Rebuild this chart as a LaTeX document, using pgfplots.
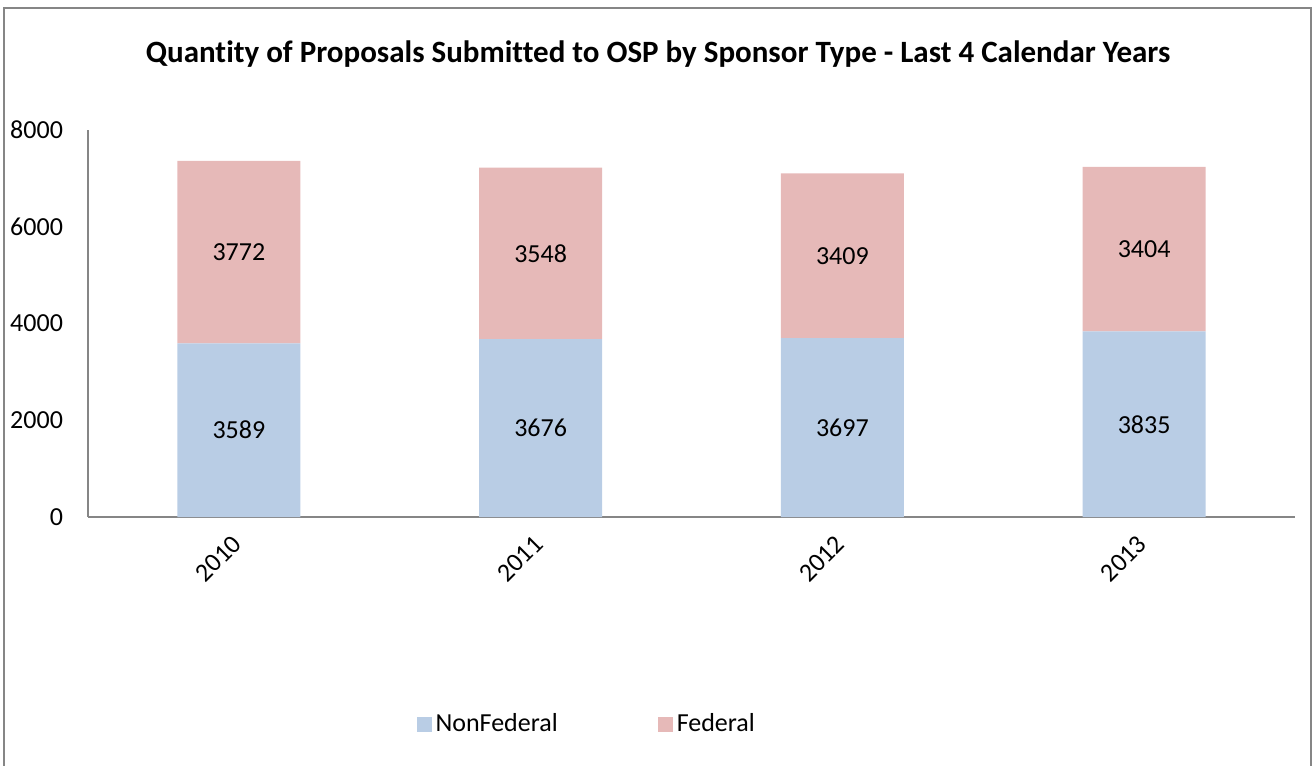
\documentclass[border=0pt]{standalone}
\usepackage{pgfplots}
\pgfplotsset{compat=1.18}
\usepackage{pgfplotstable}
\usepackage{fontspec}
\setmainfont{Carlito}[Ligatures=NoCommon]
\definecolor{nonfed}{RGB}{185,205,229}
\definecolor{fed}{RGB}{230,185,184}
\definecolor{axisgray}{RGB}{134,134,134}

\pgfplotstableread{
x nonfed fed
0 3589 3772
1 3676 3548
2 3697 3409
3 3835 3404
}\proposals

\begin{document}
\begin{tikzpicture}
\path[use as bounding box] (0,0) rectangle (656.5pt,383pt);
\draw[axisgray,line width=1pt] (2pt,0) -- (2pt,379pt) -- (655.5pt,379pt) -- (655.5pt,0);
\node[font=\fontsize{15.5}{18}\selectfont\bfseries] at (329pt,356pt)
  {Quantity of Proposals Submitted to OSP by Sponsor Type - Last 4 Calendar Years};
\begin{axis}[
  at={(44pt,124.5pt)},anchor=south west,
  scale only axis,width=603.5pt,height=193.5pt,
  ybar stacked,bar width=61.5pt,
  xmin=-0.5,xmax=3.5,ymin=0,ymax=8000,
  xtick={0,1,2,3},xticklabels={2010,2011,2012,2013},
  ytick={0,2000,4000,6000,8000},
  scaled y ticks=false,
  major tick length=0pt,
  axis x line=bottom,axis y line=left,
  axis line style={-,axisgray,line width=1pt},
  tick label style={font=\fontsize{13}{15}\selectfont},
  /pgf/number format/assume math mode=true,
  /pgf/number format/1000 sep={},
  yticklabel style={xshift=-9pt},
  xticklabel style={xshift=1.5pt,yshift=-9pt,rotate=45,anchor=east},
  nodes near coords,
  every node near coord/.append style={font=\fontsize{13}{15}\selectfont,anchor=center},
  legend columns=2,
  legend style={at={(rel axis cs:0.414,-0.535)},anchor=center,draw=none,
    font=\fontsize{13}{15}\selectfont,
    /tikz/every even column/.append style={column sep=48pt}},
  legend image code/.code={\fill[#1,draw=none] (0pt,-3.75pt) rectangle (7.5pt,3.75pt);},
]
\addplot[fill=nonfed,draw=none] table[x=x,y=nonfed] {\proposals};
\addplot[fill=fed,draw=none] table[x=x,y=fed] {\proposals};
\legend{NonFederal,Federal}
\end{axis}
\end{tikzpicture}
\end{document}
